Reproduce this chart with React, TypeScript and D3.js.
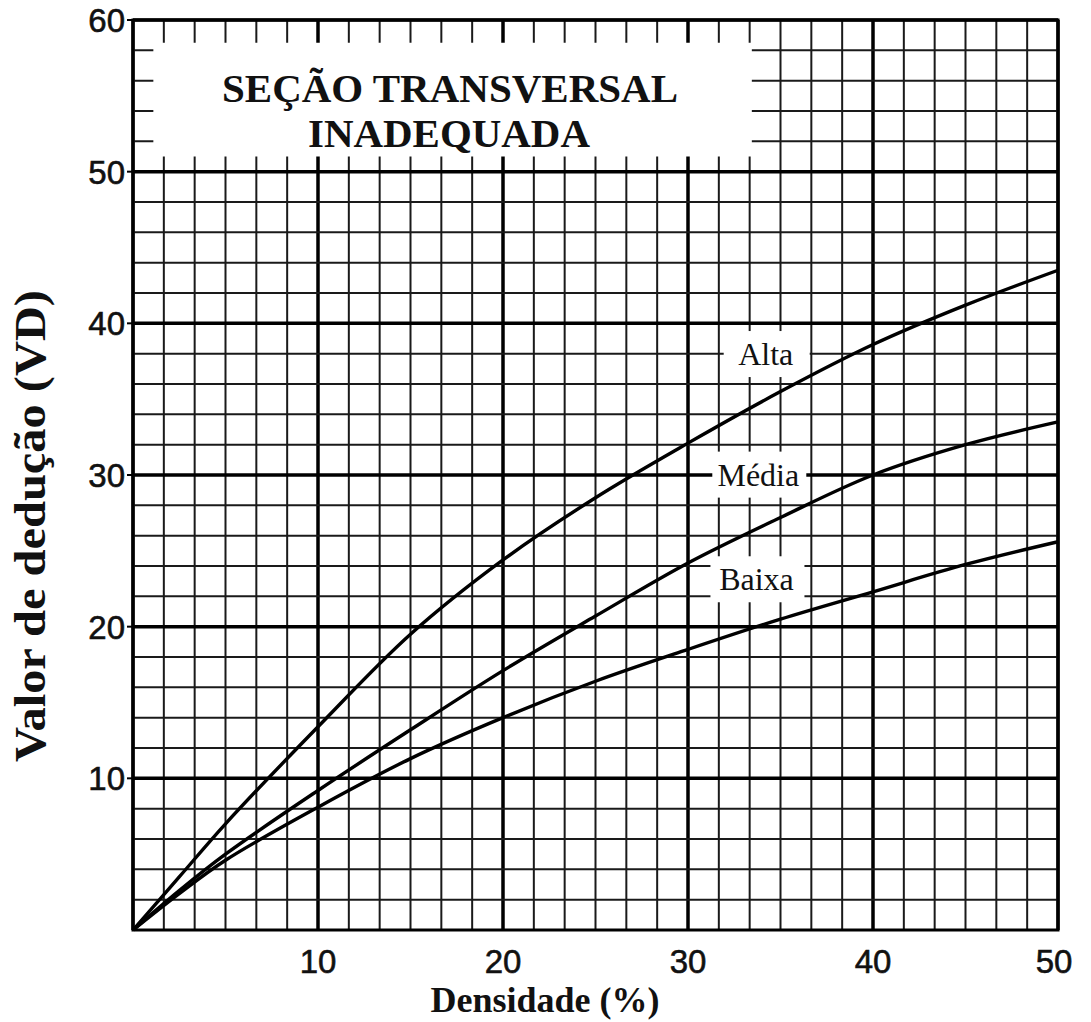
import React from 'react';
import * as d3 from 'd3';

// values (Densidade % -> VD)
const densidade = [0, 2.5, 5, 10, 15, 20, 25, 30, 35, 40, 45, 50];
const alta = [0, 3.5, 7.0, 13.4, 19.5, 24.4, 28.5, 32.1, 35.5, 38.6, 41.2, 43.5];
const media = [0, 2.6, 5.0, 9.2, 13.2, 17.1, 20.7, 24.2, 27.2, 30.0, 32.0, 33.5];
const baixa = [0, 2.4, 4.6, 8.1, 11.3, 14.0, 16.4, 18.5, 20.5, 22.3, 24.1, 25.6];

const xTicks = [10, 20, 30, 40, 50];
const yTicks = [10, 20, 30, 40, 50, 60];

const titleLines = ['SEÇÃO TRANSVERSAL', 'INADEQUADA'];
const xTitle = 'Densidade (%)';
const yTitle = 'Valor de dedução (VD)';

const series = [
  { name: 'Alta', values: alta, label: { x: 34.2, y: 37.25 } },
  { name: 'Média', values: media, label: { x: 33.8, y: 29.3 } },
  { name: 'Baixa', values: baixa, label: { x: 33.7, y: 22.4 } },
];

const W = 1091;
const H = 1022;
const serif = '"Liberation Serif", "Times New Roman", serif';
const sans = '"Liberation Sans", Arial, Helvetica, sans-serif';

const App: React.FC = () => {
  const x = d3.scaleLinear().domain([0, 50]).range([133, 1058]);
  const y = d3.scaleLinear().domain([0, 60]).range([930, 20]);

  // paper grid: 6 cells per 10 % across, 5 cells per 10 VD up
  const vLines = d3.range(0, 31).map(i => ({ v: (i * 50) / 30, major: i % 6 === 0 }));
  const hLines = d3.range(0, 31).map(i => ({ v: i * 2, major: i % 5 === 0 }));

  const line = d3
    .line<number>()
    .x((_, i) => x(densidade[i]))
    .y(d => y(d))
    .curve(d3.curveCatmullRom.alpha(0.5));

  return (
    <svg width={W} height={H} style={{ position: 'absolute', left: 0, top: 0, background: '#fff' }}>
      <style>{`body{margin:0}`}</style>
      <rect width={W} height={H} fill="#fff" />

      {/* grid */}
      <g>
        {vLines.map((d, i) => (
          <line
            key={'v' + i}
            x1={x(d.v)}
            x2={x(d.v)}
            y1={y(0)}
            y2={y(60)}
            stroke={d.major ? '#000' : '#1a1a1a'}
            strokeWidth={d.major ? 3.5 : 2}
          />
        ))}
        {hLines.map((d, i) => (
          <line
            key={'h' + i}
            x1={x(0)}
            x2={x(50)}
            y1={y(d.v)}
            y2={y(d.v)}
            stroke={d.major ? '#000' : '#1a1a1a'}
            strokeWidth={d.major && d.v !== 0 ? 3.5 : 2}
          />
        ))}
        {yTicks.map(t => (
          <line key={'yt' + t} x1={x(0) - 6} x2={x(0)} y1={y(t)} y2={y(t)} stroke="#000" strokeWidth={2} />
        ))}
      </g>

      {/* title box */}
      <rect x={x(1.1)} y={y(58.5)} width={x(33.45) - x(1.1)} height={y(51.0) - y(58.5)} fill="#fff" />
      <g fontFamily={serif} fontWeight="bold" fontSize={40} textAnchor="middle" fill="#111">
        <text x={450} y={102} textLength={456} lengthAdjust="spacingAndGlyphs">{titleLines[0]}</text>
        <text x={449} y={147} textLength={282} lengthAdjust="spacingAndGlyphs">{titleLines[1]}</text>
      </g>

      {/* series label boxes */}
      {series.map(s => (
        <rect
          key={'lb' + s.name}
          x={x(s.label.x) - (s.name === 'Alta' ? 42 : 46)}
          y={y(s.label.y) - 34}
          width={s.name === 'Alta' ? 86 : 94}
          height={46}
          fill="#fff"
        />
      ))}

      {/* curves */}
      {series.map(s => (
        <path key={s.name} d={line(s.values) || ''} fill="none" stroke="#000" strokeWidth={3.4} />
      ))}

      {series.map(s => (
        <text
          key={'lt' + s.name}
          x={x(s.label.x)}
          y={y(s.label.y)}
          fontFamily={serif}
          fontSize={32}
          textAnchor="middle"
          fill="#111"
        >
          {s.name}
        </text>
      ))}

      {/* plot frame */}
      <rect x={x(0)} y={y(60)} width={x(50) - x(0)} height={y(0) - y(60)} fill="none" stroke="#000" strokeWidth={3} />

      {/* tick labels */}
      <g fontFamily={sans} fontSize={33} fill="#111" stroke="#111" strokeWidth={0.6}>
        {xTicks.map(t => (
          <text key={'xl' + t} x={t === 50 ? x(t) - 4 : x(t)} y={973} textAnchor="middle">
            {t}
          </text>
        ))}
        {yTicks.map(t => (
          <text key={'yl' + t} x={125} y={y(t)} dy="0.36em" textAnchor="end">
            {t}
          </text>
        ))}
      </g>

      {/* axis titles */}
      <text x={545} y={1012} fontFamily={serif} fontWeight="bold" fontSize={36} textAnchor="middle" fill="#111">
        {xTitle}
      </text>
      <text
        transform={`translate(45, 526) rotate(-90)`}
        fontFamily={serif}
        fontWeight="bold"
        fontSize={45}
        textAnchor="middle"
        textLength={472}
        lengthAdjust="spacingAndGlyphs"
        fill="#111"
      >
        {yTitle}
      </text>
    </svg>
  );
};

export default App;
